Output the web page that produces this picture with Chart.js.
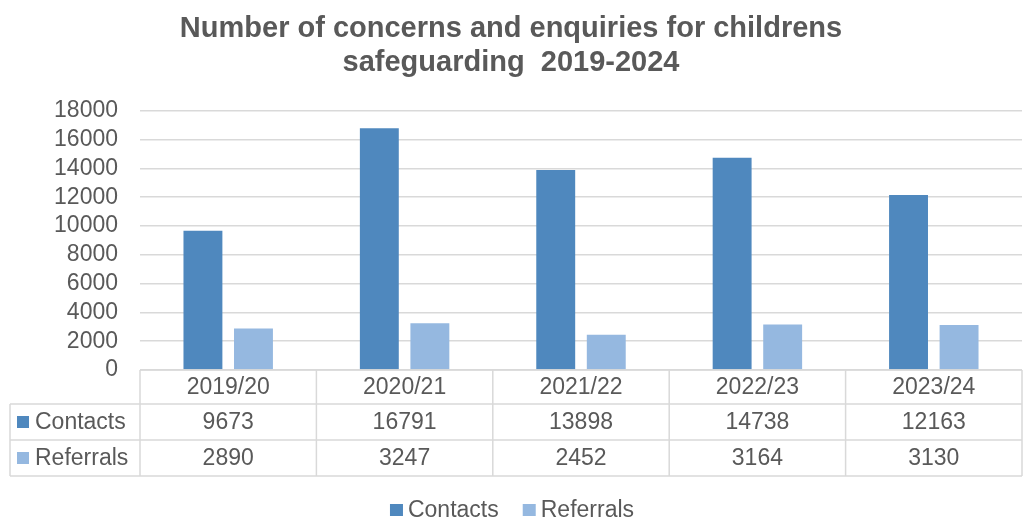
<!DOCTYPE html>
<html>
<head>
<meta charset="utf-8">
<script src="https://cdn.jsdelivr.net/npm/chart.js@4.4.1/dist/chart.umd.min.js"></script>
<style>
  html, body { margin: 0; padding: 0; background: #ffffff; }
  #wrap { width: 1024px; height: 521px; position: relative; }
</style>
</head>
<body>
<div id="wrap"><canvas id="c" width="1024" height="521"></canvas></div>
<script>
const titleLines = ['Number of concerns and enquiries for childrens', 'safeguarding  2019-2024'];
const categories = ['2019/20', '2020/21', '2021/22', '2022/23', '2023/24'];
const seriesNames = ['Contacts', 'Referrals'];
const contacts = [9673, 16791, 13898, 14738, 12163];
const referrals = [2890, 3247, 2452, 3164, 3130];
const yMin = 0, yMax = 18000, yStep = 2000;

const colors = ['#4F88BE', '#95B8E0'];
const textColor = '#595959';
const lineColor = '#D9D9D9';
const FONT = "'Liberation Sans', Arial, sans-serif";

const tablePlugin = {
  id: 'dataTable',
  afterDraw(chart) {
    const ctx = chart.ctx;
    const xs = chart.scales.x;
    const area = chart.chartArea;
    const n = categories.length;
    const colW = (xs.right - xs.left) / n;
    const rows = [area.bottom, area.bottom + 34, area.bottom + 70, area.bottom + 106];
    const labelLeft = 10;
    ctx.save();
    ctx.strokeStyle = lineColor;
    ctx.lineWidth = 1.5;
    ctx.beginPath();
    ctx.moveTo(xs.left, rows[0]); ctx.lineTo(xs.right, rows[0]);
    for (let r = 1; r < rows.length; r++) {
      ctx.moveTo(labelLeft, rows[r]); ctx.lineTo(xs.right, rows[r]);
    }
    ctx.moveTo(labelLeft, rows[1]); ctx.lineTo(labelLeft, rows[3]);
    for (let i = 0; i <= n; i++) {
      const x = xs.left + colW * i;
      ctx.moveTo(x, rows[0]); ctx.lineTo(x, rows[3]);
    }
    ctx.stroke();

    ctx.fillStyle = textColor;
    ctx.font = '23px ' + FONT;
    ctx.textBaseline = 'middle';
    ctx.textAlign = 'center';
    const series = [contacts, referrals];
    for (let i = 0; i < n; i++) {
      const cx = xs.getPixelForValue(i);
      ctx.fillText(categories[i], cx, (rows[0] + rows[1]) / 2 + 1);
      for (let s = 0; s < series.length; s++) {
        ctx.fillText(String(series[s][i]), cx, (rows[s + 1] + rows[s + 2]) / 2 + 1);
      }
    }
    ctx.textAlign = 'left';
    for (let s = 0; s < seriesNames.length; s++) {
      const cy = (rows[s + 1] + rows[s + 2]) / 2;
      ctx.fillStyle = colors[s];
      ctx.fillRect(17, cy - 6, 12, 12);
      ctx.fillStyle = textColor;
      ctx.fillText(seriesNames[s], 35, cy + 1);
    }

    // bottom legend
    const boxW = 13, gapBT = 5, gapItems = 24, ly = 510;
    const widths = seriesNames.map(t => ctx.measureText(t).width);
    let total = 0;
    widths.forEach((w, i) => { total += boxW + gapBT + w + (i < widths.length - 1 ? gapItems : 0); });
    let x = chart.width / 2 - total / 2;
    for (let s = 0; s < seriesNames.length; s++) {
      ctx.fillStyle = colors[s];
      ctx.fillRect(x, ly - 6, boxW, 12);
      ctx.fillStyle = textColor;
      ctx.fillText(seriesNames[s], x + boxW + gapBT, ly + 1);
      x += boxW + gapBT + widths[s] + gapItems;
    }
    ctx.restore();
  }
};

new Chart(document.getElementById('c'), {
  type: 'bar',
  data: {
    labels: categories,
    datasets: [
      { label: seriesNames[0], data: contacts, backgroundColor: colors[0], borderWidth: 0 },
      { label: seriesNames[1], data: referrals, backgroundColor: colors[1], borderWidth: 0 }
    ]
  },
  options: {
    responsive: false,
    animation: false,
    devicePixelRatio: 1,
    layout: { padding: { left: 0, right: 2, top: 0, bottom: 43 } },
    datasets: { bar: { categoryPercentage: 0.573, barPercentage: 0.77 } },
    plugins: {
      title: {
        display: true,
        text: titleLines,
        color: textColor,
        font: { family: FONT, size: 29, weight: 'bold', lineHeight: 1.17 },
        padding: { top: 12, bottom: 31 }
      },
      legend: { display: false },
      tooltip: { enabled: false }
    },
    scales: {
      x: {
        grid: { display: false },
        border: { display: false },
        ticks: { display: false },
        afterFit(scale) { scale.height = 108; }
      },
      y: {
        min: yMin,
        max: yMax,
        ticks: {
          stepSize: yStep,
          autoSkip: false,
          color: textColor,
          font: { family: FONT, size: 23 },
          padding: 22,
          callback: (v) => String(v)
        },
        grid: { color: lineColor, lineWidth: 1.5, drawTicks: false },
        border: { display: false },
        afterFit(scale) { scale.width = 140; }
      }
    }
  },
  plugins: [tablePlugin]
});
</script>
</body>
</html>
